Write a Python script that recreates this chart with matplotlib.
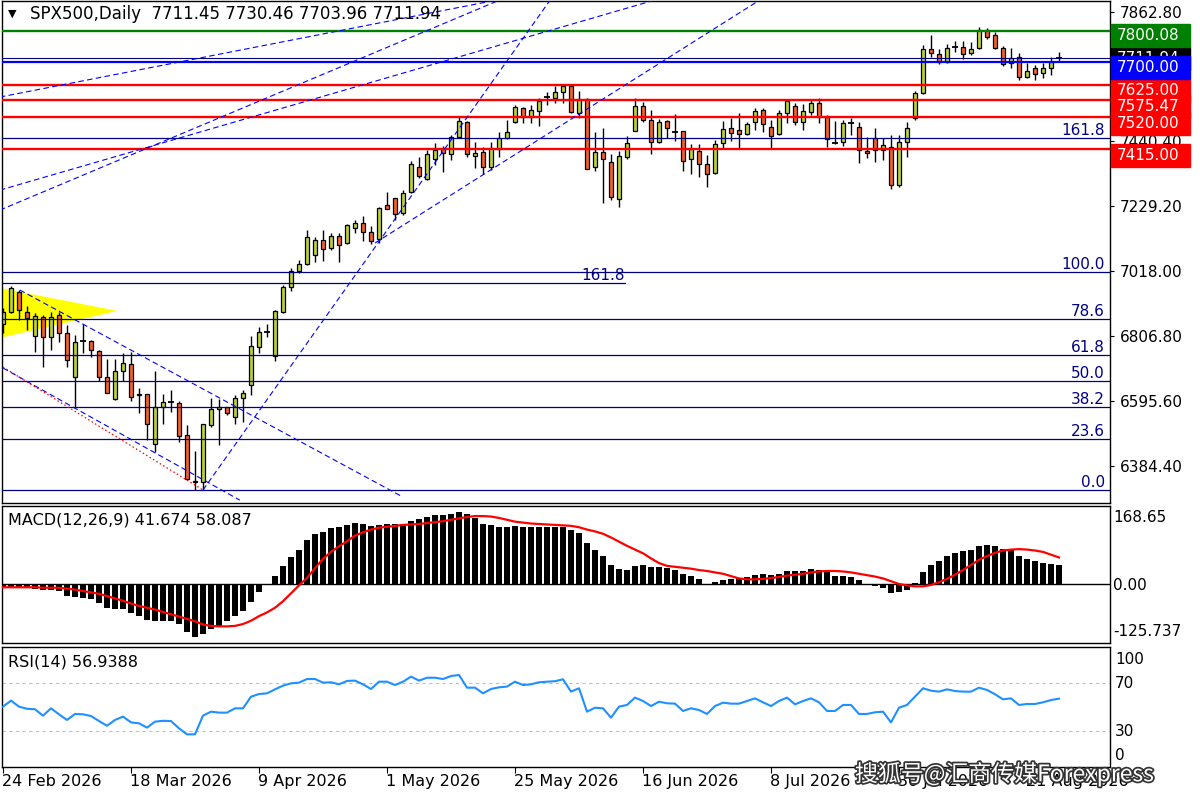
import numpy as np
import matplotlib
matplotlib.use("Agg")
import matplotlib.pyplot as plt
import matplotlib.patheffects as pe
from matplotlib.patches import Rectangle, Polygon

plt.rcParams['font.family'] = ['DejaVu Sans']

# ---- candle data (daily bars, oldest first) ----
opens = [6845, 6884, 6951, 6886, 6808, 6870, 6803, 6875, 6816, 6675,
         6792, 6791, 6758, 6675, 6603, 6693, 6715, 6618, 6617, 6456,
         6577, 6589, 6588, 6485, 6335, 6333, 6516, 6569, 6575, 6543,
         6605, 6647, 6772, 6818, 6742, 6886, 6968, 7020, 7041, 7070,
         7119, 7093, 7133, 7111, 7158, 7176, 7145, 7124, 7233, 7256,
         7207, 7277, 7358, 7317, 7383, 7415, 7400, 7456, 7503, 7393,
         7405, 7358, 7415, 7451, 7505, 7548, 7521, 7541, 7584, 7583,
         7601, 7621, 7532, 7580, 7358, 7405, 7373, 7252, 7391, 7476,
         7556, 7510, 7440, 7507, 7473, 7474, 7383, 7410, 7366, 7337,
         7435, 7483, 7477, 7464, 7505, 7543, 7489, 7464, 7532, 7556,
         7505, 7537, 7565, 7521, 7438, 7440, 7499, 7487, 7410, 7451,
         7413, 7423, 7300, 7440, 7516, 7597, 7740, 7724, 7700, 7746,
         7747, 7727, 7744, 7803, 7787, 7744, 7695, 7714, 7649, 7679,
         7662, 7679, 7711.45]
highs = [6897, 6970, 6957, 6905, 6883, 6876, 6884, 6886, 6843, 6811,
         6845, 6793, 6762, 6732, 6732, 6751, 6756, 6637, 6620, 6693,
         6619, 6632, 6597, 6518, 6433, 6522, 6605, 6601, 6577, 6615,
         6632, 6807, 6838, 6846, 6892, 6973, 7028, 7055, 7152, 7130,
         7152, 7142, 7142, 7172, 7185, 7198, 7165, 7228, 7276, 7258,
         7282, 7377, 7389, 7413, 7435, 7426, 7462, 7519, 7508, 7438,
         7423, 7440, 7471, 7510, 7559, 7552, 7559, 7581, 7601, 7621,
         7624, 7624, 7606, 7583, 7471, 7483, 7400, 7410, 7458, 7581,
         7568, 7543, 7513, 7510, 7530, 7476, 7432, 7432, 7396, 7445,
         7507, 7516, 7534, 7505, 7548, 7548, 7510, 7543, 7575, 7565,
         7562, 7575, 7581, 7527, 7507, 7510, 7518, 7505, 7454, 7483,
         7451, 7462, 7462, 7505, 7605, 7754, 7787, 7740, 7758, 7768,
         7768, 7765, 7814, 7809, 7798, 7751, 7744, 7727, 7697, 7689,
         7697, 7716, 7730.46]
lows = [6816, 6881, 6859, 6827, 6756, 6707, 6762, 6789, 6705, 6572,
        6753, 6740, 6662, 6621, 6598, 6661, 6597, 6556, 6469, 6431,
        6520, 6561, 6463, 6339, 6306, 6306, 6512, 6452, 6550, 6521,
        6528, 6614, 6751, 6805, 6727, 6883, 6955, 7011, 7038, 7049,
        7052, 7087, 7049, 7106, 7144, 7117, 7107, 7109, 7220, 7185,
        7201, 7272, 7323, 7315, 7364, 7342, 7380, 7453, 7389, 7355,
        7335, 7348, 7391, 7449, 7502, 7502, 7502, 7492, 7559, 7567,
        7567, 7532, 7516, 7350, 7344, 7239, 7250, 7226, 7382, 7474,
        7505, 7400, 7435, 7451, 7442, 7345, 7335, 7324, 7291, 7335,
        7416, 7443, 7416, 7462, 7478, 7472, 7418, 7462, 7502, 7494,
        7478, 7527, 7500, 7423, 7432, 7426, 7462, 7369, 7388, 7375,
        7380, 7285, 7293, 7391, 7510, 7594, 7716, 7692, 7695, 7733,
        7708, 7722, 7740, 7773, 7740, 7687, 7679, 7641, 7646, 7641,
        7646, 7657, 7703.96]
closes = [6886, 6963, 6892, 6865, 6873, 6803, 6868, 6816, 6729, 6788,
          6790, 6762, 6675, 6623, 6693, 6718, 6608, 6615, 6520, 6577,
          6592, 6591, 6482, 6342, 6332, 6520, 6569, 6577, 6556, 6605,
          6621, 6775, 6819, 6820, 6889, 6966, 7020, 7041, 7129, 7119,
          7090, 7133, 7102, 7168, 7176, 7146, 7116, 7224, 7222, 7203,
          7272, 7366, 7329, 7399, 7413, 7402, 7456, 7507, 7400, 7402,
          7356, 7418, 7451, 7471, 7552, 7521, 7542, 7573, 7586, 7601,
          7621, 7537, 7578, 7352, 7405, 7383, 7261, 7392, 7435, 7556,
          7510, 7438, 7503, 7485, 7471, 7378, 7416, 7366, 7334, 7431,
          7480, 7469, 7464, 7496, 7540, 7496, 7459, 7532, 7572, 7503,
          7540, 7565, 7521, 7448, 7436, 7500, 7501, 7413, 7402, 7413,
          7428, 7298, 7438, 7483, 7597, 7740, 7727, 7700, 7744, 7748,
          7724, 7740, 7803, 7780, 7744, 7693, 7711, 7649, 7671, 7659,
          7679, 7698, 7711.94]

# MACD(12,26,9): main line drawn as histogram, signal as red line
macd_hist = [-6, -6, -7, -7, -9, -11, -11, -14, -25, -27,
             -28, -31, -39, -51, -52, -52, -62, -68, -76, -78,
             -78, -78, -85, -102, -112, -107, -95, -90, -78, -68,
             -57, -38, -16, 2, 19, 39, 58, 75, 95, 108,
             113, 122, 124, 128, 132, 129, 126, 128, 129, 129,
             129, 137, 141, 146, 149, 149, 151, 155, 151, 142,
             130, 128, 124, 124, 126, 124, 124, 124, 124, 123,
             123, 117, 110, 90, 75, 62, 41, 34, 32, 39,
             41, 37, 37, 36, 32, 23, 19, 11, 2, 5,
             9, 11, 14, 16, 21, 23, 21, 23, 30, 28,
             30, 33, 32, 26, 18, 18, 16, 9, 1, -4,
             -7, -18, -16, -11, 3, 26, 41, 51, 62, 68,
             73, 75, 82, 85, 83, 76, 75, 62, 55, 50,
             46, 43, 41.674]
macd_signal = [-6, -6, -6, -6, -6, -7, -7, -7, -9, -11,
               -14, -17, -20, -25, -30, -35, -41, -46, -50, -54,
               -59, -64, -69, -74, -79, -86, -89, -90, -90, -89,
               -85, -78, -68, -60, -50, -36, -19, -2, 14, 35,
               55, 70, 82, 93, 105, 112, 118, 122, 124, 126,
               128, 129, 130, 132, 134, 136, 139, 142, 145, 147,
               147, 146, 143, 139, 135, 133, 131, 130, 129, 128,
               127, 126, 123, 118, 114, 109, 101, 92, 83, 75,
               67, 56, 46, 40, 38, 36, 34, 31, 29, 26,
               23, 18, 13, 11, 11, 12, 14, 16, 19, 21,
               23, 26, 28, 29, 29, 28, 26, 23, 20, 17,
               13, 7, 1, -2, -4, -4, -1, 5, 12, 21,
               31, 42, 53, 61, 68, 73, 75, 76, 75, 73,
               70, 64, 58.087]

rsi = [50.3, 55.3, 50.3, 48.5, 48.1, 42.8, 48.9, 43.9, 39.2, 44.2,
       43.9, 42.5, 38.3, 34.4, 39.2, 42.0, 37.2, 36.4, 32.8, 37.8,
       38.5, 38.3, 32.2, 27.2, 27.2, 42.8, 46.1, 45.3, 45.3, 48.9,
       48.9, 58.6, 60.8, 61.4, 64.7, 67.8, 69.7, 70.3, 73.3, 73.3,
       70.3, 70.6, 68.9, 71.7, 72.0, 68.9, 65.0, 71.1, 71.1, 68.3,
       71.1, 75.3, 72.0, 74.4, 74.4, 73.3, 75.8, 76.7, 66.1, 66.1,
       61.4, 65.0, 66.4, 67.0, 71.1, 68.3, 68.9, 70.6, 71.1, 71.5,
       73.1, 62.8, 65.6, 46.1, 49.4, 48.9, 41.1, 50.3, 51.7, 57.8,
       55.0, 50.8, 54.4, 53.1, 52.8, 46.7, 48.9, 47.5, 44.2, 50.8,
       53.6, 52.8, 52.8, 55.0, 57.2, 53.9, 50.8, 55.0, 57.8, 52.2,
       55.0, 57.2, 53.9, 46.7, 46.7, 51.7, 51.7, 44.2, 44.2, 45.6,
       46.1, 37.2, 49.4, 51.7, 58.6, 65.6, 63.6, 62.8, 64.7, 63.3,
       62.8, 62.8, 66.1, 64.2, 60.6, 56.4, 57.2, 51.7, 52.5, 52.5,
       53.9, 55.8, 56.94]

date_labels = ['24 Feb 2026', '18 Mar 2026', '9 Apr 2026', '1 May 2026', '25 May 2026',
               '16 Jun 2026', '8 Jul 2026', '30 Jul 2026', '21 Aug 2026']
date_bars = [0, 16, 32, 48, 64, 80, 96, 112, 128]

price_ticks = [7862.80, 7651.60, 7440.40, 7229.20, 7018.00, 6806.80, 6595.60, 6384.40]

# horizontal levels drawn on the chart
red_levels = [7625.00, 7575.47, 7520.00, 7415.00]
green_level = 7800.08
blue_level = 7700.00

# fibonacci retracement (low -> high) and the extra extension line
fib_low, fib_high = 6306, 7015
fib_ratios = [0.0, 23.6, 38.2, 50.0, 61.8, 78.6, 100.0, 161.8]
ext_level, ext_end_bar = 6979, 77.75

# trend lines as (bar, price) pairs
dashed_lines = [
    ((-0.4, 7585), (61.75, 7901)),
    ((-0.4, 7217), (62.1, 7901)),
    ((-0.4, 7282), (81.5, 7901)),
    ((25.0, 6306), (68.4, 7901)),
    ((46.5, 7110), (94.6, 7901)),
    ((2.1, 6957), (50.0, 6283)),
    ((0.0, 6703), (29.6, 6273)),
]
dotted_line = ((0.0, 6706), (25.0, 6306))
triangle = [(-0.4, 6964), (14.25, 6889), (-0.4, 6801)]

# ---- layout (pixel based, figure 1200x800) ----
W, H = 1200, 800
fig = plt.figure(figsize=(12, 8), dpi=100)
fig.patch.set_facecolor('white')


def rect(l, t, r, b):
    return [l / W, 1 - b / H, (r - l) / W, (b - t) / H]


ax = fig.add_axes(rect(2, 1, 1110, 503))
ax2 = fig.add_axes(rect(2, 506, 1110, 643))
ax3 = fig.add_axes(rect(2, 647, 1110, 767))

n = len(closes)
x = np.arange(n)
o, h, l, c = map(np.array, (opens, highs, lows, closes))

BULL = '#BDD13A'
BEAR = '#F2622C'
NAVY = '#000080'

for a in (ax, ax2, ax3):
    a.set_xlim(-0.125, 138.375)
    for s in a.spines.values():
        s.set_color('black')
        s.set_linewidth(1)
    a.set_xticks([])

ax.set_ylim(6263.7, 7897.7)

# yellow triangle behind candles
ax.add_patch(Polygon(triangle, closed=True, color='#FFFF00', lw=0, zorder=1))

# candles
ax.vlines(x, l, h, color='black', lw=1.0, zorder=2)
body = np.abs(c - o)
doji = body < 3
up = c >= o
cols = np.where(up, BULL, BEAR)
ax.bar(x[~doji], body[~doji], bottom=np.minimum(o, c)[~doji], width=0.62,
       color=cols[~doji], edgecolor='black', linewidth=0.9, zorder=2.5)
ax.hlines(c[doji], x[doji] - 0.33, x[doji] + 0.33, color='black', lw=1.3, zorder=2.5)

# horizontal lines
for lv in red_levels:
    ax.axhline(lv, color='#FF0000', lw=1.7, zorder=3)
ax.axhline(green_level, color='#008000', lw=1.7, zorder=3)
ax.axhline(blue_level, color='#0000FF', lw=1.6, zorder=3)
ax.axhline(closes[-1], color=NAVY, lw=0.8, zorder=3)

for r in fib_ratios:
    lv = fib_low + (fib_high - fib_low) * r / 100
    ax.axhline(lv, color=NAVY, lw=0.9, zorder=3)
    ax.text(137.75, lv, f'{r:.1f}', color=NAVY, fontsize=11, ha='right', va='bottom', zorder=4)
ax.plot([-0.4, ext_end_bar], [ext_level, ext_level], color=NAVY, lw=0.9, zorder=3)
ax.text(ext_end_bar, ext_level, '161.8', color=NAVY, fontsize=11, ha='right', va='bottom', zorder=4)

for (x0, y0), (x1, y1) in dashed_lines:
    ax.plot([x0, x1], [y0, y1], color='#0000FF', lw=0.8, dashes=(5, 3), zorder=3)
ax.plot([dotted_line[0][0], dotted_line[1][0]], [dotted_line[0][1], dotted_line[1][1]],
        color='#FF0000', lw=0.9, dashes=(1.2, 2), zorder=3)

ax.yaxis.tick_right()
ax.set_yticks(price_ticks)
ax.set_yticklabels([f'{p:.2f}' for p in price_ticks])
ax.tick_params(axis='y', length=3, pad=4, labelsize=11, direction='out')

fig.text(8 / W, 1 - 14 / H, '▼', fontsize=8, va='center')
fig.text(30 / W, 1 - 14 / H, 'SPX500,Daily  7711.45 7730.46 7703.96 7711.94', fontsize=12, va='center')


def price_px(p):
    return H - ax.transData.transform((0, p))[1]


def price_box(p, text, color, dy, z):
    yc = price_px(p) + dy
    fig.add_artist(Rectangle((1111 / W, 1 - (yc + 11.5) / H), 79 / W, 23 / H,
                             transform=fig.transFigure, color=color, zorder=z))
    fig.text(1117 / W, 1 - yc / H, text, color='white', fontsize=11, va='center', zorder=z + 0.1)


price_box(closes[-1], '7711.94', 'black', 0, 10)
price_box(7625.00, '7625.00', '#FF0000', 6, 11)
price_box(7575.47, '7575.47', '#FF0000', 7, 12)
price_box(7520.00, '7520.00', '#FF0000', 6, 13)
price_box(blue_level, '7700.00', '#0000FF', 6, 14)
price_box(green_level, '7800.08', '#008000', 5, 15)
price_box(7415.00, '7415.00', '#FF0000', 6, 16)

# MACD pane
ax2.set_ylim(-125.737, 168.65)
ax2.bar(x, macd_hist, width=0.72, color='black', zorder=2)
ax2.axhline(0, color='black', lw=1, zorder=1)
ax2.plot(x, macd_signal, color='#FF0000', lw=1.6, zorder=3)
ax2.set_yticks([])
fig.text(8 / W, 1 - 520 / H, 'MACD(12,26,9) 41.674 58.087', fontsize=11.5, va='center')
for txt, ypx in (('168.65', 518), ('0.00', 586), ('-125.737', 632)):
    fig.text(1113 / W, 1 - ypx / H, txt, fontsize=11, va='center')

# RSI pane
ax3.set_ylim(0, 100)
ax3.plot(x, rsi, color='#1E90FF', lw=1.5, zorder=3)
for lv in (70, 30):
    ax3.axhline(lv, color='#C0C0C0', lw=0.8, dashes=(3, 3), zorder=1)
ax3.set_yticks([])
fig.text(8 / W, 1 - 662 / H, 'RSI(14) 56.9388', fontsize=11.5, va='center')
for txt, ypx in (('100', 660), ('70', 683), ('30', 731), ('0', 755)):
    fig.text(1115 / W, 1 - ypx / H, txt, fontsize=11, va='center')

ax3.set_xticks(date_bars)
ax3.tick_params(axis='x', length=4, direction='out', labelbottom=False)
for b, lab in zip(date_bars, date_labels):
    ax3.text(b - 0.1, -0.117, lab, transform=ax3.get_xaxis_transform(),
             fontsize=11.5, ha='left', va='center', clip_on=False)

# watermark
fig.text(855 / W, 1 - 774 / H, '搜狐号@汇商传媒Forexpress', fontsize=16.5,
         family=['Noto Sans CJK SC', 'DejaVu Sans'], color='white', va='center',
         path_effects=[pe.withStroke(linewidth=2.5, foreground='#333333')], zorder=20)

fig.savefig('out.png', dpi=100)
